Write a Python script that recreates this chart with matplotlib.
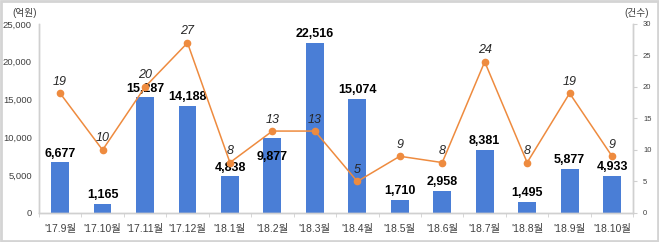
import numpy as np
import matplotlib.pyplot as plt
from matplotlib.patches import Rectangle
from matplotlib.ticker import FuncFormatter

plt.rcParams['font.family'] = ['Liberation Sans', 'Noto Sans CJK KR', 'DejaVu Sans']

# 데이터
months = ["'17.9월", "'17.10월", "'17.11월", "'17.12월", "'18.1월", "'18.2월", "'18.3월",
          "'18.4월", "'18.5월", "'18.6월", "'18.7월", "'18.8월", "'18.9월", "'18.10월"]
amount = [6677, 1165, 15287, 14188, 4838, 9877, 22516, 15074, 1710, 2958, 8381, 1495, 5877, 4933]
count = [19, 10, 20, 27, 8, 13, 13, 5, 9, 8, 24, 8, 19, 9]

bar_color = "#4A7ED6"
line_color = "#EE8B3F"
axis_gray = "#D0D0D0"
text_gray = "#404040"

fig = plt.figure(figsize=(6.59, 2.42), dpi=100)
ax = fig.add_axes([0.059, 0.12, 0.902, 0.781])
ax2 = ax.twinx()

x = np.arange(len(months))
ax.bar(x, amount, width=0.42, color=bar_color, zorder=2)
ax.set_xlim(-0.5, len(months) - 0.5)
ax.set_ylim(0, 25000)
ax.set_yticks(range(0, 25001, 5000))
ax.yaxis.set_major_formatter(FuncFormatter(lambda v, p: f"{int(v):,}"))

# 금액 라벨 ('18.2월 라벨은 막대 안쪽)
for xi, v in zip(x, amount):
    dy = -18 if v == 9877 else 2
    ax.annotate(f"{v:,}", (xi, v), xytext=(0, dy), textcoords="offset points",
                ha="center", va="bottom", fontsize=9, fontweight="bold", color="black")

ax2.plot(x, count, color=line_color, lw=1.1, marker="o", ms=4.5, zorder=3)
ax2.set_ylim(0, 30)
ax2.set_yticks(range(0, 31, 5))
for xi, c in zip(x, count):
    ax2.annotate(str(c), (xi, c), xytext=(0, 4), textcoords="offset points",
                 ha="center", va="bottom", fontsize=9, style="italic", color="#262626")

# 축 스타일
ax.set_xticks(x)
ax.set_xticklabels(months, fontsize=7.5, color=text_gray)
ax.set_xticks(np.arange(-0.5, len(months), 1), minor=True)
ax.tick_params(axis="x", which="major", length=0, pad=8)
ax.tick_params(axis="x", which="minor", length=3, color=axis_gray)
ax.tick_params(axis="y", length=0, labelsize=6.8, labelcolor=text_gray, pad=5)
ax2.tick_params(axis="y", length=3, color=axis_gray, labelsize=5.5, labelcolor=text_gray, pad=4)

for a in (ax, ax2):
    a.spines["top"].set_visible(False)
    for s in ("left", "right", "bottom"):
        a.spines[s].set_color(axis_gray)
        a.spines[s].set_linewidth(1)

fig.text(0.037, 0.945, "(억원)", fontsize=7, color=text_gray, ha="center", va="center")
fig.text(0.966, 0.945, "(건수)", fontsize=7, color=text_gray, ha="center", va="center")

fig.add_artist(Rectangle((0.002, 0.004), 0.996, 0.992, transform=fig.transFigure,
                         fill=False, edgecolor="#D4D4D4", lw=2))

fig.savefig("out.png", dpi=100)
